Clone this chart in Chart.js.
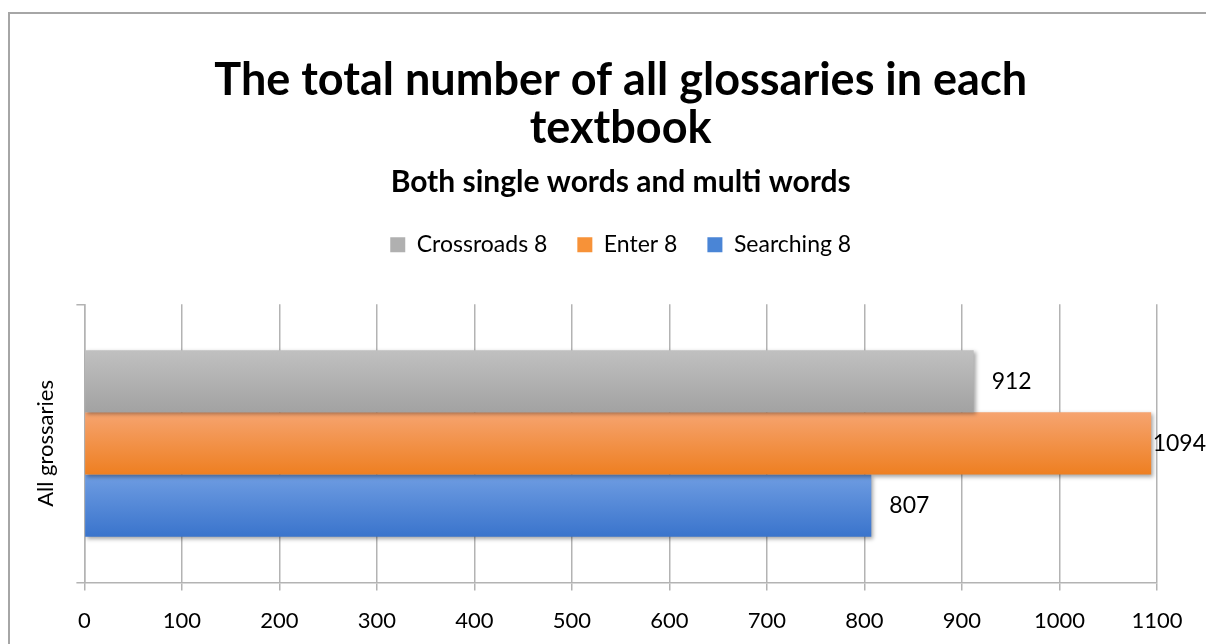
<!DOCTYPE html>
<html>
<head>
<meta charset="utf-8">
<script src="https://cdn.jsdelivr.net/npm/chart.js@4"></script>
<style>
  html, body { margin: 0; padding: 0; background: #fff; overflow: hidden; }
  #frame { position: absolute; left: 8px; top: 12px; width: 1300px; height: 700px;
           border-left: 2px solid #a6a6a6; border-top: 2px solid #a6a6a6; }
  #wrap { position: absolute; left: 0; top: 0; width: 1206px; height: 644px; }
</style>
</head>
<body>
<div id="frame"></div>
<div id="wrap"><canvas id="glossChart" width="1206" height="644"></canvas></div>
<script>
// Chart data
const categories = ['All grossaries'];
const seriesNames = ['Crossroads 8', 'Enter 8', 'Searching 8'];
const crossroads = [912];
const enter = [1094];
const searching = [807];
const xTicks = [0, 100, 200, 300, 400, 500, 600, 700, 800, 900, 1000, 1100];

// top / bottom colours for each bar gradient
const gradStops = [
    ['#c0c0c0', '#a2a2a2'],
    ['#f6a470', '#ee7f21'],
    ['#6f9de2', '#3a74cc']
];
const flatColors = ['#b0b0b0', '#f79238', '#4a85d6'];

// give bars a vertical gradient + soft shadow like the office chart
const barLook = {
    id: 'barLook',
    beforeDatasetsDraw(chart) {
        const ctx = chart.ctx;
        chart.data.datasets.forEach((ds, i) => {
            chart.getDatasetMeta(i).data.forEach(bar => {
                const top = bar.y - bar.height / 2;
                const g = ctx.createLinearGradient(0, top, 0, top + bar.height);
                g.addColorStop(0, gradStops[i][0]);
                g.addColorStop(1, gradStops[i][1]);
                bar.options.backgroundColor = g;
            });
        });
        ctx.save();
        ctx.shadowColor = 'rgba(0,0,0,0.35)';
        ctx.shadowBlur = 4;
        ctx.shadowOffsetX = 2;
        ctx.shadowOffsetY = 2;
    },
    afterDatasetsDraw(chart) {
        chart.ctx.restore();
    }
};

// value labels at the end of each bar
const valueLabels = {
    id: 'valueLabels',
    afterDatasetsDraw(chart) {
        const ctx = chart.ctx;
        ctx.save();
        ctx.font = '23px Lato';
        ctx.fillStyle = '#000';
        ctx.textBaseline = 'middle';
        chart.data.datasets.forEach((ds, i) => {
            chart.getDatasetMeta(i).data.forEach((bar, j) => {
                const txt = String(ds.data[j]);
                const w = ctx.measureText(txt).width;
                let x = bar.x + 18;
                if (x + w > chart.width) x = chart.width - w;
                ctx.fillText(txt, x, bar.y);
            });
        });
        ctx.restore();
    }
};

// extra room under the legend
const legendGap = {
    id: 'legendGap',
    beforeInit(chart) {
        const fit = chart.legend.fit;
        chart.legend.fit = function () {
            fit.call(this);
            this.height += 38;
        };
    }
};

const ctx = document.getElementById('glossChart').getContext('2d');
const glossChart = new Chart(ctx, {
    type: 'bar',
    data: {
        labels: categories,
        datasets: [
            { label: seriesNames[0], data: crossroads, backgroundColor: flatColors[0] },
            { label: seriesNames[1], data: enter, backgroundColor: flatColors[1] },
            { label: seriesNames[2], data: searching, backgroundColor: flatColors[2] }
        ]
    },
    options: {
        indexAxis: 'y',
        responsive: false,
        animation: false,
        categoryPercentage: 0.67,
        barPercentage: 1.0,
        layout: { padding: { top: 50, left: 33, right: 49, bottom: -7 } },
        plugins: {
            title: {
                display: true,
                fullSize: false,
                text: ['The total number of all glossaries in each', 'textbook'],
                color: '#000',
                font: { family: 'Lato', size: 45, weight: 'bold', lineHeight: 1.07 },
                padding: { top: 6, bottom: 12 }
            },
            subtitle: {
                display: true,
                fullSize: false,
                text: 'Both single words and multi words',
                color: '#000',
                font: { family: 'Lato', size: 30, weight: 'bold', lineHeight: 1.2 },
                padding: { top: 0, bottom: 3 }
            },
            legend: {
                position: 'top',
                fullSize: false,
                labels: {
                    color: '#000',
                    font: { family: 'Lato', size: 23 },
                    boxWidth: 15,
                    boxHeight: 15,
                    padding: 30
                }
            },
            tooltip: { enabled: false }
        },
        scales: {
            x: {
                min: 0,
                max: 1100,
                afterBuildTicks(scale) {
                    scale.ticks = xTicks.map(v => ({ value: v }));
                },
                grid: { color: '#b3b3b3', lineWidth: 1.5, tickLength: 8 },
                border: { color: '#b3b3b3', width: 1.5 },
                ticks: {
                    color: '#000',
                    font: { family: 'Lato', size: 22 },
                    padding: 17,
                    maxRotation: 0,
                    callback: v => String(v)
                }
            },
            y: {
                grid: { drawOnChartArea: false, color: '#b3b3b3', lineWidth: 1.5, tickLength: 8 },
                border: { color: '#b3b3b3', width: 1.5 },
                ticks: { display: false },
                title: {
                    display: true,
                    text: categories[0],
                    color: '#000',
                    font: { family: 'Lato', size: 22 },
                    padding: { top: 0, bottom: 17 }
                }
            }
        }
    },
    plugins: [legendGap, barLook, valueLabels]
});
</script>
</body>
</html>
